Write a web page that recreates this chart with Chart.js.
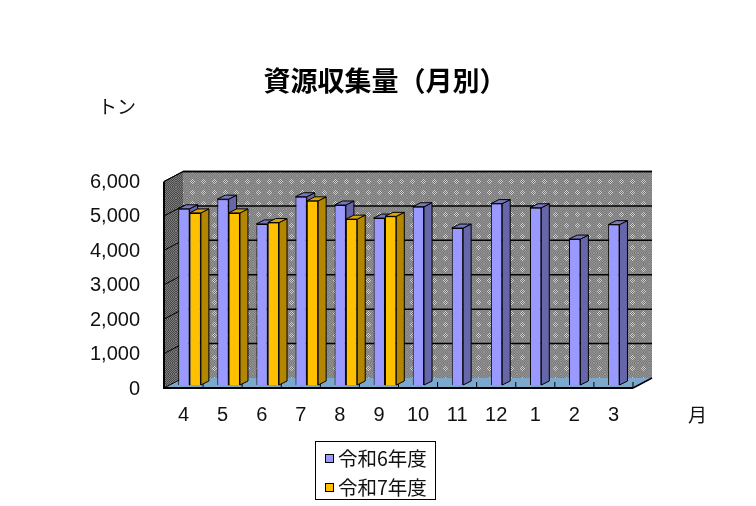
<!DOCTYPE html>
<html lang="ja">
<head>
<meta charset="utf-8">
<title>資源収集量（月別）</title>
<script src="https://cdn.jsdelivr.net/npm/chart.js@4"></script>
<style>
  html, body { margin: 0; background: #fff; }
  #wrap { position: relative; width: 756px; height: 506px; }
  #legend { position: absolute; left: 315px; top: 441px; width: 119px; height: 57px; border: 1px solid #000; background: #fff; }
  .item { position: absolute; left: 22px; font: 19.5px/24px "Noto Sans CJK JP"; color: #111; white-space: nowrap; }
  .item i { position: absolute; left: -13px; top: 8px; width: 7px; height: 7px; border: 1px solid #000; }
</style>
</head>
<body>
<div id="wrap">
  <canvas id="chart" width="756" height="506"></canvas>
  <div id="legend"></div>
</div>
<script>
const months = ['4', '5', '6', '7', '8', '9', '10', '11', '12', '1', '2', '3'];
const r6Values = [5120, 5400, 4680, 5470, 5230, 4850, 5180, 4560, 5270, 5150, 4240, 4660];
const r7Values = [5000, 5000, 4720, 5350, 4820, 4900, null, null, null, null, null, null];
const chartTitle = '資源収集量（月別）';
const seriesNames = ['令和6年度', '令和7年度'];
const yUnit = 'トン';
const xUnit = '月';

// Depth of the fake 3D box and of the bars
const wallDx = 19, wallDy = 10;
const barDx = 8, barDy = 4;
const barShiftX = 6, barShiftY = -3;

const faceColors = [
  { front: '#9999ff', side: '#6666aa', top: '#7777bb' },
  { front: '#ffc000', side: '#b38600', top: '#d9a300' }
];

// Dithered fill used on the walls: a fine checker with an optional diamond of stronger contrast
const makeDither = (ctx, light, dark, spotLight, spotDark) => {
  const size = 11;
  const tile = document.createElement('canvas');
  tile.width = tile.height = size;
  const t = tile.getContext('2d');
  for (let x = 0; x < size; x++) {
    for (let y = 0; y < size; y++) {
      const isSpot = spotLight && Math.abs(x - 5) + Math.abs(y - 5) <= 2;
      const odd = (x + y) % 2 === 1;
      t.fillStyle = isSpot ? (odd ? spotDark : spotLight) : (odd ? dark : light);
      t.fillRect(x, y, 1, 1);
    }
  }
  return ctx.createPattern(tile, 'repeat');
};

const poly = (ctx, pts, fill, stroke) => {
  ctx.beginPath();
  pts.forEach(([x, y], i) => (i ? ctx.lineTo(x, y) : ctx.moveTo(x, y)));
  ctx.closePath();
  if (fill) { ctx.fillStyle = fill; ctx.fill(); }
  if (stroke) { ctx.strokeStyle = stroke; ctx.lineWidth = 1; ctx.stroke(); }
};

const line = (ctx, x0, y0, x1, y1, width) => {
  ctx.beginPath();
  ctx.moveTo(x0, y0);
  ctx.lineTo(x1, y1);
  ctx.strokeStyle = '#000';
  ctx.lineWidth = width;
  ctx.stroke();
};

const box3d = {
  id: 'box3d',
  afterLayout(chart) {
    // Title is centred on the page, not on the padded area
    chart.titleBlock.left = 14;
    chart.titleBlock.right = 756;
  },
  beforeDatasetsDraw(chart) {
    const { ctx, chartArea: { left, right, top, bottom }, scales: { x, y } } = chart;
    const backLeft = left + wallDx, backRight = right + wallDx;
    const backTop = top - wallDy, backBottom = bottom - wallDy;

    poly(ctx, [[backLeft, backTop], [backRight, backTop], [backRight, backBottom], [backLeft, backBottom]],
      makeDither(ctx, '#929292', '#7c7c7c', '#d4d4d4', '#686868'));
    poly(ctx, [[left, top], [backLeft, backTop], [backLeft, backBottom], [left, bottom]],
      makeDither(ctx, '#7c7c7c', '#484848'));
    poly(ctx, [[left, bottom], [right, bottom], [backRight, backBottom], [backLeft, backBottom]], '#7ca8cc');

    // Gridlines run across the side wall and the back wall
    y.ticks.forEach((tick, i) => {
      const py = y.getPixelForTick(i);
      if (tick.value > 0) line(ctx, backLeft, py - wallDy, backRight, py - wallDy, 1.5);
      line(ctx, left, py, backLeft, py - wallDy, 1);
    });
    line(ctx, left, top, left, bottom, 2);
    line(ctx, right, bottom, backRight, backBottom, 1.5);

    const step = (right - left) / months.length;
    x.ticks.forEach((tick, i) => line(ctx, left + step * (i + 1), bottom - 6, left + step * (i + 1), bottom, 1));
    line(ctx, left - 1, bottom, right, bottom, 2);

    ctx.save();
    ctx.translate(barShiftX, barShiftY);

    // Side and top faces first, so the next bar's front can cover them
    chart.data.datasets.forEach((dataset, d) => {
      const colors = faceColors[d];
      chart.getDatasetMeta(d).data.forEach((bar, i) => {
        if (dataset.data[i] === null) return;
        const x0 = bar.x - bar.width / 2, x1 = bar.x + bar.width / 2;
        poly(ctx, [[x1, bar.y], [x1 + barDx, bar.y - barDy], [x1 + barDx, bar.base - barDy], [x1, bar.base]], colors.side, '#000');
        poly(ctx, [[x0, bar.y], [x1, bar.y], [x1 + barDx, bar.y - barDy], [x0 + barDx, bar.y - barDy]], colors.top, '#000');
      });
    });
  },
  afterDatasetsDraw(chart) {
    const { ctx, chartArea: { left, right, top, bottom } } = chart;
    ctx.restore();
    line(ctx, left + wallDx, top - wallDy, right + wallDx, top - wallDy, 1.5);
    line(ctx, left, top, left + wallDx, top - wallDy, 1);

    ctx.fillStyle = '#111';
    ctx.textBaseline = 'middle';
    ctx.textAlign = 'left';
    ctx.font = '19px "Noto Sans CJK JP"';
    ctx.fillText(yUnit, left - 66, top - 75);
    ctx.fillText(xUnit, right + 55, bottom + 27);
  }
};

const chart = new Chart(document.getElementById('chart'), {
  type: 'bar',
  data: {
    labels: months,
    datasets: [
      { label: seriesNames[0], data: r6Values, backgroundColor: faceColors[0].front },
      { label: seriesNames[1], data: r7Values, backgroundColor: faceColors[1].front }
    ].map(d => ({ ...d, borderColor: '#000', borderWidth: 1, clip: false, categoryPercentage: 0.58, barPercentage: 1 }))
  },
  options: {
    responsive: false,
    animation: false,
    layout: { padding: { right: 123 } },
    plugins: {
      legend: { display: false },
      tooltip: { enabled: false },
      title: {
        display: true,
        text: chartTitle,
        color: '#000',
        font: { family: '"Noto Sans CJK JP"', size: 27, weight: 'bold' },
        padding: { top: 65, bottom: 84.1 }
      }
    },
    scales: {
      x: {
        grid: { display: false, drawTicks: false },
        border: { display: false },
        ticks: { color: '#111', font: { family: '"Liberation Sans"', size: 20 }, padding: 15, maxRotation: 0 },
        afterFit: (scale) => { scale.height = 118; }
      },
      y: {
        min: 0,
        max: 6000,
        grid: { display: false, drawTicks: false },
        border: { display: false },
        ticks: {
          stepSize: 1000,
          color: '#111',
          font: { family: '"Liberation Sans"', size: 20 },
          padding: 24,
          labelOffset: 1,
          callback: (value) => value.toLocaleString('en-US')
        },
        afterFit: (scale) => { scale.width = 164; }
      }
    }
  },
  plugins: [box3d]
});

// Legend sits in its own framed box under the chart
const legendBox = document.getElementById('legend');
chart.data.datasets.forEach((d, i) => {
  const item = document.createElement('div');
  item.className = 'item';
  item.style.top = (4 + i * 29) + 'px';
  item.innerHTML = `<i style="background:${d.backgroundColor}"></i>${d.label}`;
  legendBox.appendChild(item);
});
</script>
</body>
</html>
